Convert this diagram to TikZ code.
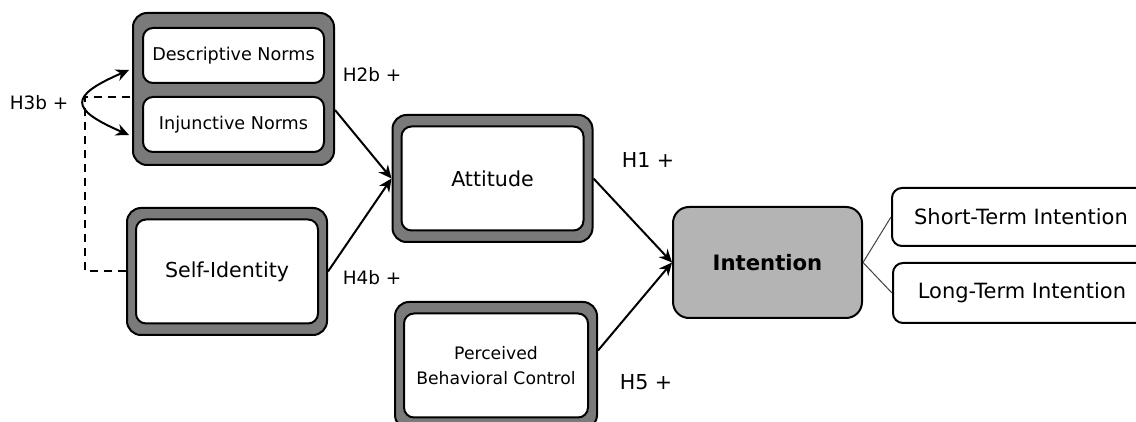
\documentclass[tikz,border=0pt]{standalone}
\usepackage{fontspec}
\setmainfont{DejaVu Sans}
\usepackage{tikz}
\usetikzlibrary{arrows.meta,positioning}
\definecolor{framegray}{RGB}{122,122,122}
\definecolor{intentgray}{RGB}{180,180,180}
\tikzset{
  model-frame/.style={draw=black, fill=framegray, rounded corners=7pt, line width=1pt, inner sep=0pt},
  model-construct/.style={draw=black, fill=white, rounded corners=5pt, line width=1pt, align=center,
    inner sep=0pt, font=\fontsize{10.3}{12.5}\selectfont},
  model-norm/.style={model-construct, font=\fontsize{8.8}{11.5}\selectfont},
  model-target/.style={draw=black, fill=intentgray, rounded corners=8pt, line width=1pt, inner sep=0pt,
    font=\bfseries\fontsize{10.6}{12.5}\selectfont},
  model-outcome/.style={draw=black, fill=white, rounded corners=5pt, line width=1pt, inner sep=0pt,
    font=\fontsize{10.5}{12.5}\selectfont},
  model-path/.style={line width=1pt, -{Stealth[length=6.5pt,width=6pt]}},
  model-both/.style={line width=1pt, {Stealth[length=6.5pt,width=6pt]}-{Stealth[length=6.5pt,width=6pt]}},
  model-link/.style={line width=0.5pt, draw=black!75},
  model-dash/.style={line width=1pt, dash pattern=on 4pt off 3pt},
  model-label/.style={font=\fontsize{10.3}{12}\selectfont},
  model-label-small/.style={font=\fontsize{9.2}{11}\selectfont}
}

\begin{document}
\begin{tikzpicture}[x=0.5pt, y=-0.5pt]
  \useasboundingbox (0,0) rectangle (1136,422);
  \clip (0,0) rectangle (1136,422);
  % norms block
  \node[model-frame, minimum width=100.5pt, minimum height=76pt] (normsframe) at (233.5,89) {};
  \node[model-norm, minimum width=90.5pt, minimum height=27.5pt] (descnorm) at (233.5,55.5) {Descriptive Norms};
  \node[model-norm, minimum width=90.5pt, minimum height=27.5pt] (injnorm) at (233.5,124.5) {Injunctive Norms};
  % single constructs
  \node[model-frame, minimum width=100pt, minimum height=63.5pt] (selfframe) at (227,271.5) {};
  \node[model-construct, minimum width=91pt, minimum height=52pt] (selfid) at (227,271.5) {Self-Identity};
  \node[model-frame, minimum width=100pt, minimum height=63.5pt] (attframe) at (492.5,178.5) {};
  \node[model-construct, minimum width=91pt, minimum height=52pt] (attitude) at (492.5,178.5) {Attitude};
  \node[model-frame, minimum width=101pt, minimum height=63.5pt] (pbcframe) at (496,365.5) {};
  \node[model-construct, font=\fontsize{8.6}{12.5}\selectfont, minimum width=92pt, minimum height=52pt]
    (pbc) at (496,365.5) {Perceived\\Behavioral Control};
  % intention and outcomes
  \node[model-target, minimum width=94.5pt, minimum height=55.5pt] (intention) at (767.5,262.5) {Intention};
  \node[model-outcome, minimum width=129pt, minimum height=29pt] (shortterm) at (1021,217) {Short-Term Intention};
  \node[model-outcome, minimum width=129pt, minimum height=30pt] (longterm) at (1022,293) {Long-Term Intention};
  % hypotheses
  \draw[model-path] ([yshift=-10.5pt]normsframe.east) -- (attframe.west);
  \draw[model-path] (selfframe.east) -- (attframe.west);
  \draw[model-path] (attframe.east) -- (intention.west);
  \draw[model-path] ([yshift=7.5pt]pbcframe.east) -- (intention.west);
  \draw[model-link] (intention.east) -- (shortterm.west);
  \draw[model-link] (intention.east) -- (longterm.west);
  \draw[model-both] ([xshift=-1.5pt, yshift=9.5pt]normsframe.west) .. controls +(-60,26) and +(-60,-26) .. ([xshift=-1.5pt, yshift=-23pt]normsframe.west);
  \coordinate (h3corner) at (85,97);
  \draw[model-dash] (selfframe.west) -| (h3corner) -- (normsframe.west |- h3corner);
  \node[model-label-small] (h3b) at (39,103) {H3b +};
  \node[model-label-small] (h2b) at (372,75) {H2b +};
  \node[model-label-small] (h4b) at (372,278) {H4b +};
  \node[model-label] (h1) at (648,160) {H1 +};
  \node[model-label] (h5) at (646,382) {H5 +};
\end{tikzpicture}
\end{document}
